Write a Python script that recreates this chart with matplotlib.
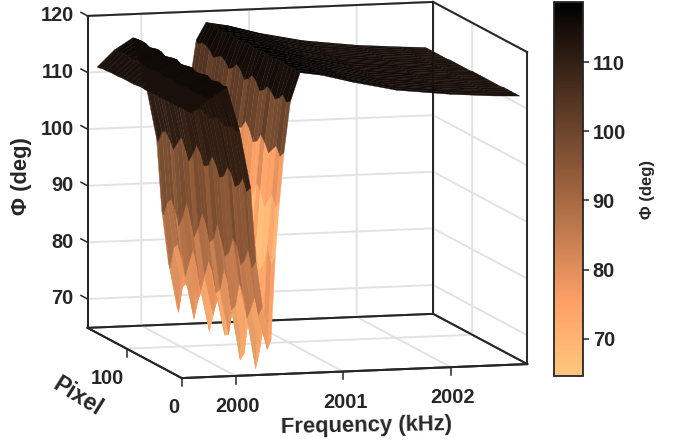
import numpy as np
import matplotlib
matplotlib.use('Agg')
import matplotlib.pyplot as plt
from matplotlib import cm
from matplotlib.colors import Normalize
from mpl_toolkits.mplot3d import proj3d

plt.rcParams['font.family'] = ['Liberation Sans', 'DejaVu Sans']
plt.rcParams['font.weight'] = 'bold'

ink = '#262626'

freq_khz = [1999.59, 1999.75, 1999.92, 2000.04, 2000.14, 2000.19, 2000.25, 2000.33, 2000.37, 2000.41,
            2000.45, 2000.51, 2000.60, 2000.80, 2001.10, 2001.50, 2002.00, 2002.40, 2002.64]
pixels = [0, 7, 14, 21, 28, 35, 42, 49, 56, 63, 70, 77, 84, 91, 98, 105, 112, 119, 126, 133, 140, 147, 154, 161, 168, 171]

# one row per pixel
phi = [
    [111.7, 113.9, 116.0, 108.0, 98.0, 85.0, 77.0, 71.0, 86.0, 95.5, 104.0, 113.0, 118.0, 117.4, 115.9, 114.2, 113.1, 112.5, 112.3],
    [111.6, 113.8, 115.8, 107.7, 97.0, 83.5, 75.0, 69.0, 84.0, 94.0, 103.0, 112.5, 118.1, 117.4, 115.8, 114.2, 113.1, 112.5, 112.3],
    [111.7, 114.0, 116.1, 108.3, 99.0, 86.5, 78.0, 72.5, 87.0, 96.0, 104.5, 113.5, 118.2, 117.5, 115.9, 114.3, 113.2, 112.6, 112.3],
    [111.6, 113.9, 115.9, 107.8, 97.5, 84.0, 75.5, 68.0, 83.5, 94.5, 103.5, 112.5, 118.0, 117.4, 115.8, 114.2, 113.1, 112.5, 112.3],
    [111.5, 113.8, 115.7, 107.5, 96.8, 83.0, 73.5, 64.5, 82.0, 93.0, 102.5, 112.0, 118.1, 117.4, 115.8, 114.2, 113.1, 112.5, 112.3],
    [111.6, 114.0, 116.2, 108.1, 98.8, 86.0, 77.5, 71.0, 85.5, 95.5, 104.0, 113.0, 118.2, 117.5, 115.9, 114.2, 113.1, 112.5, 112.2],
    [111.6, 113.9, 116.0, 108.4, 99.5, 87.0, 79.0, 72.0, 87.0, 96.5, 105.0, 113.5, 118.3, 117.5, 115.9, 114.3, 113.2, 112.5, 112.2],
    [111.5, 113.8, 115.8, 107.7, 97.5, 84.0, 74.5, 66.0, 83.5, 94.0, 103.5, 112.5, 118.0, 117.4, 115.8, 114.2, 113.1, 112.5, 112.2],
    [111.5, 113.7, 115.7, 107.5, 97.0, 83.0, 73.5, 64.6, 82.0, 93.5, 103.0, 112.0, 118.0, 117.4, 115.8, 114.2, 113.1, 112.4, 112.2],
    [111.6, 114.0, 116.1, 108.0, 99.0, 85.5, 78.0, 71.0, 86.0, 96.0, 105.0, 113.5, 118.2, 117.5, 115.9, 114.2, 113.1, 112.5, 112.2],
    [111.5, 113.9, 116.0, 108.4, 100.0, 88.0, 80.0, 73.0, 87.5, 97.0, 106.0, 114.0, 118.3, 117.5, 115.9, 114.3, 113.2, 112.5, 112.2],
    [111.4, 113.8, 115.8, 107.8, 98.0, 85.0, 76.0, 68.0, 84.0, 95.0, 104.5, 113.0, 118.0, 117.4, 115.7, 114.2, 113.1, 112.4, 112.2],
    [111.4, 113.7, 115.7, 107.5, 97.5, 84.0, 75.0, 67.5, 83.5, 94.5, 104.0, 112.5, 118.0, 117.3, 115.7, 114.1, 113.1, 112.4, 112.2],
    [111.5, 114.0, 116.1, 108.0, 99.5, 87.0, 78.5, 72.0, 86.5, 96.5, 105.5, 114.0, 118.2, 117.5, 115.9, 114.2, 113.1, 112.4, 112.1],
    [111.4, 113.9, 116.0, 108.4, 100.5, 88.5, 80.0, 73.0, 88.0, 97.5, 106.5, 114.5, 118.3, 117.5, 115.9, 114.3, 113.2, 112.5, 112.1],
    [111.3, 113.8, 115.8, 107.8, 98.5, 85.5, 77.0, 70.0, 85.0, 95.5, 105.0, 113.5, 118.1, 117.4, 115.8, 114.2, 113.1, 112.4, 112.1],
    [111.3, 113.7, 115.6, 107.5, 97.0, 83.5, 74.0, 66.7, 83.0, 94.5, 104.0, 113.0, 118.0, 117.3, 115.7, 114.1, 113.0, 112.4, 112.1],
    [111.3, 113.9, 116.0, 108.0, 99.0, 86.5, 78.0, 71.0, 86.0, 96.5, 106.0, 114.0, 118.1, 117.4, 115.8, 114.2, 113.1, 112.4, 112.1],
    [111.3, 114.0, 116.1, 108.4, 100.5, 89.0, 80.5, 73.5, 88.0, 98.0, 107.0, 114.5, 118.2, 117.5, 115.9, 114.2, 113.1, 112.4, 112.1],
    [111.2, 113.8, 115.9, 107.8, 99.0, 86.0, 78.0, 71.0, 86.0, 96.5, 106.0, 114.0, 118.1, 117.4, 115.8, 114.2, 113.0, 112.4, 112.0],
    [111.2, 113.7, 115.7, 107.5, 97.5, 84.0, 75.0, 67.5, 84.0, 95.0, 105.0, 113.5, 118.0, 117.3, 115.7, 114.1, 113.0, 112.3, 112.0],
    [111.2, 113.9, 116.0, 107.9, 99.0, 86.5, 78.0, 71.0, 86.0, 97.0, 107.0, 114.5, 118.1, 117.4, 115.8, 114.1, 113.0, 112.3, 112.0],
    [111.1, 114.0, 116.1, 108.3, 100.0, 88.0, 80.0, 73.0, 87.5, 98.0, 107.5, 115.0, 118.2, 117.5, 115.8, 114.2, 113.0, 112.3, 112.0],
    [111.1, 113.9, 116.0, 108.1, 99.5, 87.0, 79.0, 72.0, 87.0, 97.5, 107.5, 115.0, 118.1, 117.4, 115.8, 114.1, 113.0, 112.3, 112.0],
    [110.9, 113.8, 115.9, 107.6, 97.5, 84.5, 75.0, 67.2, 84.0, 96.0, 107.0, 114.5, 118.0, 117.3, 115.7, 114.1, 112.9, 112.3, 112.0],
    [110.9, 113.8, 115.8, 107.6, 98.0, 85.0, 76.0, 68.0, 84.5, 96.5, 107.5, 115.0, 118.0, 117.3, 115.7, 114.1, 112.9, 112.3, 112.0],
]

# brightness of each facet column (the rising wall looks lit, the falling one is in shade)
column_gain = [0.75, 0.75, 0.8, 0.55, 0.85, 0.85, 0.92, 1.05, 1.7, 2.2, 1.9, 1.3, 1.0, 0.8, 0.75, 0.75, 0.75, 0.75]
# how much the stripes show in each facet column
stripe_amount = [0, 0, 0, 1, 1, 1, 1, 1, 1, 1, 1, 0.5, 0, 0, 0, 0, 0, 0]
# slight stripes along the pixel direction
row_gain = [1.0, 0.94, 1.05, 0.97, 1.03, 0.93, 1.06, 0.98, 0.95, 1.04, 0.96, 1.05, 0.93, 1.02, 0.97, 1.06,
            0.94, 1.03, 0.98, 0.95, 1.05, 0.97, 1.02, 0.94, 1.0]

x_ticks = [2000, 2001, 2002]
y_ticks = [0, 100]
z_ticks = [70, 80, 90, 100, 110, 120]
cbar_ticks = [70, 80, 90, 100, 110]

x_lim = (1999.5, 2002.71)
y_lim = (0, 171)
z_lim = (64.9, 120)
phi_range = (64.6, 118.7)

F, P = np.meshgrid(freq_khz, pixels)
Z = np.array(phi)

fig = plt.figure(figsize=(6.81, 4.44), dpi=100)
ax = fig.add_axes([29 / 681, 26 / 444, 0.8, 1.0], projection='3d', proj_type='ortho')
ax.patch.set_alpha(0)

norm = Normalize(*phi_range)
cmap = matplotlib.colormaps['copper_r']

# facet colour = colormap at mean height, times the gains above
zc = (Z[:-1, :-1] + Z[1:, :-1] + Z[:-1, 1:] + Z[1:, 1:]) / 4
colors = cmap(norm(zc))
gain = np.array(column_gain) * (1 + np.outer(np.array(row_gain) - 1, stripe_amount))
colors[..., :3] = np.clip(colors[..., :3] * gain[..., None], 0, 1)

ax.plot_surface(F, P, Z, facecolors=colors, rstride=1, cstride=1, shade=False,
                linewidth=0.3, antialiased=True)

ax.set_xlim(*x_lim, view_margin=0)
ax.set_ylim(*y_lim, view_margin=0)
ax.set_zlim(*z_lim, view_margin=0)
ax.view_init(elev=8.45, azim=254.6)
ax.set_box_aspect((358, 354, 315), zoom=1.3)

for axis in (ax.xaxis, ax.yaxis, ax.zaxis):
    axis.pane.set_facecolor('white')
    axis.pane.set_edgecolor(ink)
    axis.pane.set_linewidth(1.4)
    axis.line.set_color(ink)
    axis.line.set_linewidth(1.4)
    axis._axinfo['grid']['color'] = '#e2e2e2'
    axis._axinfo['grid']['linewidth'] = 1.4
    axis._axinfo['tick']['inward_factor'] = 0
    axis._axinfo['tick']['outward_factor'] = 0

ax.set_xticks(x_ticks)
ax.set_yticks(y_ticks)
ax.set_zticks(z_ticks)
ax.set_xticklabels([])
ax.set_yticklabels([])
ax.set_zticklabels([])

# box edges that the grid would otherwise cover
x0, x1 = x_lim
y0, y1 = y_lim
z0, z1 = z_lim
edges = [([x0, x0], [y1, y1], [z0, z1]), ([x0, x1], [y1, y1], [z1, z1]), ([x1, x1], [y1, y1], [z0, z1]),
         ([x1, x1], [y1, y0], [z1, z1]), ([x1, x1], [y0, y0], [z0, z1]), ([x1, x1], [y1, y0], [z0, z0]),
         ([x0, x1], [y1, y1], [z0, z0]), ([x0, x1], [y0, y0], [z0, z0]), ([x0, x0], [y0, y1], [z0, z0])]
for xs, ys, zs in edges:
    ax.plot(xs, ys, zs, color=ink, lw=1.4, clip_on=False)


def tick_label(x, y, z, text, ha, dx=0, dy=0):
    # 2D annotation at the projected spot, offset given in points
    px, py, _ = proj3d.proj_transform(x, y, z, ax.get_proj())
    ax.annotate(text, (px, py), xytext=(dx, dy), textcoords='offset points', ha=ha, va='center',
                fontsize=14.4, color=ink, annotation_clip=False)


# tick marks and labels
for f in x_ticks:
    ax.plot([f, f], [0, 0], [z0, z0 - 1.4], color=ink, lw=1.1, clip_on=False)
    tick_label(f, 0, z0, str(f), 'center', dx=1.5, dy=-22)
for p in y_ticks:
    ax.plot([x0, x0], [p, p], [z0, z0 - 1.4], color=ink, lw=1.1, clip_on=False)
    tick_label(x0, p, z0, str(p), 'right', dx=-2, dy=-21.5)
for z in z_ticks:
    ax.plot([x0, x0], [171, 183], [z, z], color=ink, lw=1.1, clip_on=False)
    tick_label(x0, 171, z, str(z), 'right', dx=-10, dy=0)

fig.text(366 / 681, 1 - 426 / 444, 'Frequency (kHz)', ha='center', va='center', fontsize=15.8, color=ink, rotation=1)
fig.text(78 / 681, 1 - 397 / 444, 'Pixel', ha='center', va='center', fontsize=16.5, color=ink, rotation=-32)
fig.text(22 / 681, 1 - 176 / 444, 'Φ (deg)', ha='center', va='center', fontsize=15.8, color=ink, rotation=90)

cax = fig.add_axes([554 / 681, 1 - 376 / 444, 29 / 681, 374 / 444])
cb = fig.colorbar(cm.ScalarMappable(norm=norm, cmap=cmap), cax=cax)
cb.set_ticks(cbar_ticks)
cb.ax.tick_params(labelsize=14.4, length=4, width=1.1, color=ink, labelcolor=ink, pad=3)
cb.outline.set_edgecolor(ink)
cb.outline.set_linewidth(1.3)
cb.set_label('Φ (deg)', fontsize=12, color=ink, fontweight='bold', labelpad=10)

fig.savefig('out.png', dpi=100)
